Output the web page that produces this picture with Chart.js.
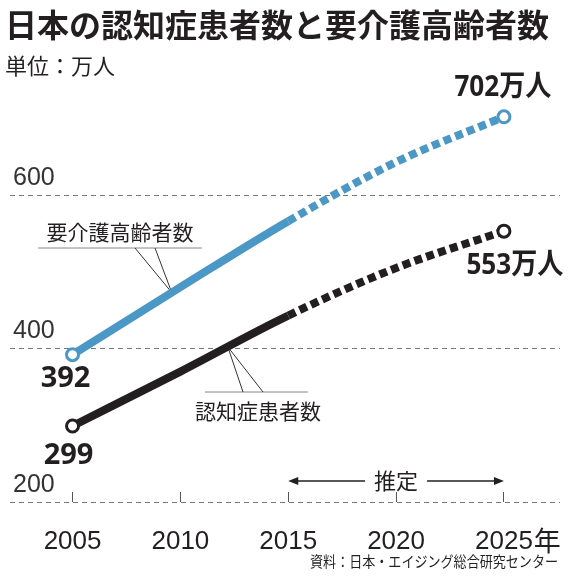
<!DOCTYPE html>
<html lang="ja">
<head>
<meta charset="utf-8">
<title>日本の認知症患者数と要介護高齢者数</title>
<script src="https://cdn.jsdelivr.net/npm/chart.js"></script>
<style>
  html, body { margin: 0; padding: 0; background: #fff; }
  #wrap { width: 570px; height: 582px; }
</style>
</head>
<body>
<div id="wrap"><canvas id="chart"></canvas></div>
<script>
// data (unit: 万人)
const years = [2005, 2010, 2015, 2020, 2025];
const xTickLabels = ['2005', '2010', '2015', '2020', '2025'];
const careValues = [392, 480, 566, 643, 702];      // 要介護高齢者数
const dementiaValues = [299, 370, 443, 505, 553];  // 認知症患者数
const yTicks = [200, 400, 600];
const estimateFrom = 2015;  // 推定 from here on

const BLUE = '#4b97c5';
const INK = '#231f20';
const NUM = "'Liberation Sans', Arial, sans-serif";
const CJK = "'Noto Sans CJK JP', sans-serif";
const BOLD = "'Noto Sans', 'Noto Sans CJK JP', sans-serif";
const DASH = [8, 4.5];
const X_FONT = 26;

function txt(ctx, s, x, y, font, align, sx) {
  ctx.save();
  ctx.font = font;
  ctx.fillStyle = INK;
  ctx.textAlign = align || 'center';
  ctx.textBaseline = 'middle';
  ctx.translate(x, y);
  ctx.scale(sx || 1, 1);
  ctx.fillText(s, 0, 0);
  ctx.restore();
}

function line(ctx, x1, y1, x2, y2) {
  ctx.beginPath();
  ctx.moveTo(x1, y1);
  ctx.lineTo(x2, y2);
  ctx.stroke();
}

function arrowHead(ctx, x, y, dir) {
  ctx.beginPath();
  ctx.moveTo(x, y);
  ctx.lineTo(x - dir * 10, y - 4);
  ctx.lineTo(x - dir * 10, y + 4);
  ctx.closePath();
  ctx.fill();
}

// linear value between two known years, for the leader line ends
function valueAt(values, year) {
  for (let i = 0; i < years.length - 1; i++) {
    if (year >= years[i] && year <= years[i + 1]) {
      const t = (year - years[i]) / (years[i + 1] - years[i]);
      return values[i] + t * (values[i + 1] - values[i]);
    }
  }
  return values[values.length - 1];
}

function series(values, color) {
  const last = values.length - 1;
  return {
    data: years.map((yr, i) => ({ x: yr, y: values[i] })),
    borderColor: color,
    borderWidth: 8,
    borderCapStyle: 'butt',
    cubicInterpolationMode: 'monotone',
    fill: false,
    clip: false,
    pointRadius: ctx => (ctx.dataIndex === 0 || ctx.dataIndex === last) ? 6 : 0,
    pointBorderWidth: 3,
    pointBorderColor: color,
    pointBackgroundColor: '#fff',
    segment: {
      borderDash: ctx => years[ctx.p0DataIndex] >= estimateFrom ? DASH : undefined
    }
  };
}

const leaders = {
  id: 'leaders',
  beforeDatasetsDraw(chart) {
    const { ctx, scales: { x, y } } = chart;
    ctx.save();
    ctx.lineWidth = 1;

    // 要介護高齢者数
    const yr1 = 2009.6;
    const p1 = { x: x.getPixelForValue(yr1), y: y.getPixelForValue(valueAt(careValues, yr1)) };
    ctx.strokeStyle = '#888';
    line(ctx, 38, 248, 202, 248);
    ctx.strokeStyle = '#333';
    line(ctx, 135, 248, p1.x, p1.y);
    line(ctx, 155, 248, p1.x, p1.y);

    // 認知症患者数
    const yr2 = 2012.2;
    const p2 = { x: x.getPixelForValue(yr2), y: y.getPixelForValue(valueAt(dementiaValues, yr2)) };
    ctx.strokeStyle = '#888';
    line(ctx, 205, 392, 308, 392);
    ctx.strokeStyle = '#333';
    line(ctx, 243, 392, p2.x, p2.y);
    line(ctx, 263, 392, p2.x, p2.y);
    ctx.restore();
  },
  afterDatasetsDraw(chart) {
    const { ctx, scales: { x } } = chart;
    const care = chart.getDatasetMeta(0).data;
    const dem = chart.getDatasetMeta(1).data;
    const last = years.length - 1;
    const bold = `bold 29px ${BOLD}`;

    txt(ctx, String(careValues[0]), care[0].x - 7, care[0].y + 24, bold);
    txt(ctx, String(dementiaValues[0]), dem[0].x - 4, dem[0].y + 30, bold);
    txt(ctx, careValues[last] + '万人', care[last].x - 1, care[last].y - 29, bold, 'center', 0.9);
    txt(ctx, dementiaValues[last] + '万人', dem[last].x + 11, dem[last].y + 35, bold, 'center', 0.9);

    txt(ctx, '要介護高齢者数', 120, 232, `21px ${CJK}`);
    txt(ctx, '認知症患者数', 258, 411, `21px ${CJK}`);

    // 推定 span
    const xa = x.getPixelForValue(estimateFrom);
    const xb = x.getPixelForValue(years[last]);
    const xm = (xa + xb) / 2, ym = 481;
    txt(ctx, '推定', xm, ym, `22px ${CJK}`);
    ctx.save();
    ctx.strokeStyle = INK;
    ctx.fillStyle = INK;
    ctx.lineWidth = 1.3;
    line(ctx, xa + 4, ym, xm - 31, ym);
    line(ctx, xm + 31, ym, xb - 4, ym);
    arrowHead(ctx, xa, ym, -1);
    arrowHead(ctx, xb, ym, 1);

    // 年 after the last year label
    ctx.font = `${X_FONT}px ${NUM}`;
    const w = ctx.measureText(xTickLabels[last]).width;
    ctx.restore();
    txt(ctx, '年', xb + w / 2 + 1, 541, `27px ${CJK}`, 'left');

    txt(ctx, '資料：日本・エイジング総合研究センター', 558, 561, `15px ${CJK}`, 'right', 0.87);
  }
};

new Chart(document.getElementById('chart'), {
  type: 'line',
  data: {
    datasets: [series(careValues, BLUE), series(dementiaValues, INK)]
  },
  options: {
    responsive: true,
    maintainAspectRatio: false,
    animation: false,
    layout: { padding: { left: 5, right: 10, top: 0, bottom: 20 } },
    plugins: {
      legend: { display: false },
      tooltip: { enabled: false },
      title: {
        display: true,
        text: '日本の認知症患者数と要介護高齢者数',
        align: 'start',
        color: INK,
        font: { family: CJK, size: 32, weight: 'bold', lineHeight: 1.2 },
        padding: { top: 6, bottom: 0 }
      },
      subtitle: {
        display: true,
        text: '単位：万人',
        align: 'start',
        color: INK,
        font: { family: CJK, size: 22, lineHeight: 1.2 },
        padding: { top: 8, bottom: 24.2 }
      }
    },
    scales: {
      x: {
        type: 'linear',
        min: 2002.1,
        max: 2027.6,
        afterBuildTicks: s => { s.ticks = years.map(v => ({ value: v })); },
        afterFit: s => { s.height = 60; },
        ticks: {
          callback: v => xTickLabels[years.indexOf(v)],
          autoSkip: false,
          maxRotation: 0,
          padding: 34,
          color: INK,
          font: { family: NUM, size: X_FONT }
        },
        grid: { drawOnChartArea: false, drawTicks: true, tickLength: -10, color: '#555', lineWidth: 1 },
        border: { display: false }
      },
      y: {
        type: 'linear',
        min: 200,
        max: 720,
        afterBuildTicks: s => { s.ticks = yTicks.map(v => ({ value: v })); },
        afterFit: s => { s.width = 5; },
        ticks: {
          mirror: true,
          padding: 3,
          labelOffset: -17,
          color: '#333',
          font: { family: NUM, size: 25 }
        },
        grid: { color: '#777', lineWidth: 1, drawTicks: false },
        border: { display: false, dash: [5, 4] }
      }
    }
  },
  plugins: [leaders]
});
</script>
</body>
</html>
